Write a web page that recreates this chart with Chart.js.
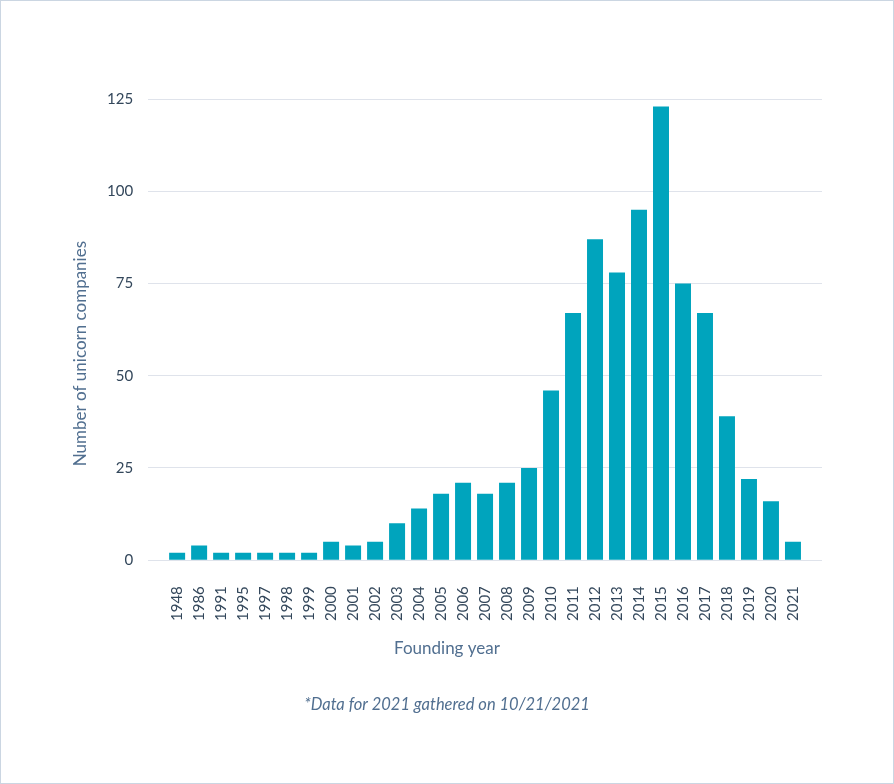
<!DOCTYPE html>
<html lang="en">
<head>
  <meta charset="UTF-8">
  <title>Unicorn companies by founding year</title>
  <script src="https://cdn.jsdelivr.net/npm/chart.js"></script>
  <style>
    html, body { margin: 0; padding: 0; background: #fff; }
    #wrap { position: relative; width: 894px; height: 784px; box-sizing: border-box; border: 1px solid #cbd6e2; }
    canvas { position: absolute; left: -1px; top: -1px; }
  </style>
</head>
<body>
  <div id="wrap"><canvas id="chart" width="894" height="784"></canvas></div>

  <script>
    // founding years (category labels) and unicorn counts
    const years = ['1948', '1986', '1991', '1995', '1997', '1998', '1999', '2000', '2001', '2002',
                   '2003', '2004', '2005', '2006', '2007', '2008', '2009', '2010', '2011', '2012',
                   '2013', '2014', '2015', '2016', '2017', '2018', '2019', '2020', '2021'];
    const counts = [2, 4, 2, 2, 2, 2, 2, 5, 4, 5,
                    10, 14, 18, 21, 18, 21, 25, 46, 67, 87,
                    78, 95, 123, 75, 67, 39, 22, 16, 5];
    const yTicks = [0, 25, 50, 75, 100, 125];

    const fontFamily = 'Lato, "Open Sans", sans-serif';
    const yTitle = 'Number of unicorn companies';
    const xTitle = 'Founding year';
    const footnote = '*Data for 2021 gathered on 10/21/2021';

    // linear x scale so the grid can run a little past the first and last bar
    const points = counts.map((v, i) => ({ x: i, y: v }));

    // axis titles and footnote: the original centres them on the page, not the plot
    const titlesPlugin = {
      id: 'titles',
      afterDraw(chart) {
        const { ctx, chartArea, width } = chart;
        ctx.save();
        ctx.fillStyle = '#516f90';
        ctx.textAlign = 'center';
        ctx.textBaseline = 'middle';

        ctx.font = '17px ' + fontFamily;
        ctx.fillText(xTitle, width / 2, chartArea.bottom + 88);

        ctx.font = 'italic 16.5px ' + fontFamily;
        ctx.fillText(footnote, width / 2, chartArea.bottom + 144);

        ctx.translate(81, (chartArea.top + chartArea.bottom) / 2 + 24);
        ctx.rotate(-Math.PI / 2);
        ctx.font = '17px ' + fontFamily;
        ctx.fillText(yTitle, 0, 0);
        ctx.restore();
      }
    };

    new Chart(document.getElementById('chart'), {
      type: 'bar',
      data: {
        datasets: [{
          data: points,
          backgroundColor: '#00a4bd',
          barPercentage: 0.727,
          categoryPercentage: 1
        }]
      },
      options: {
        responsive: false,
        animation: false,
        layout: { padding: { left: 92, right: 72, top: 99, bottom: 137 } },
        plugins: {
          legend: { display: false },
          tooltip: { enabled: false },
          title: { display: false }
        },
        scales: {
          x: {
            type: 'linear',
            offset: false,
            min: -1.32,
            max: years.length - 1 + 1.32,
            afterBuildTicks: axis => { axis.ticks = years.map((y, i) => ({ value: i })); },
            grid: { display: false, drawTicks: false },
            border: { display: false },
            ticks: {
              autoSkip: false,
              minRotation: 90,
              maxRotation: 90,
              padding: 26,
              color: '#33475b',
              font: { family: fontFamily, size: 15 },
              callback: v => years[v]
            }
          },
          y: {
            min: 0,
            max: 125,
            afterBuildTicks: axis => { axis.ticks = yTicks.map(v => ({ value: v })); },
            grid: { color: '#dfe3eb', drawTicks: false },
            border: { display: false },
            ticks: {
              padding: 15,
              color: '#33475b',
              font: { family: fontFamily, size: 15 }
            }
          }
        }
      },
      plugins: [titlesPlugin]
    });
  </script>
</body>
</html>
